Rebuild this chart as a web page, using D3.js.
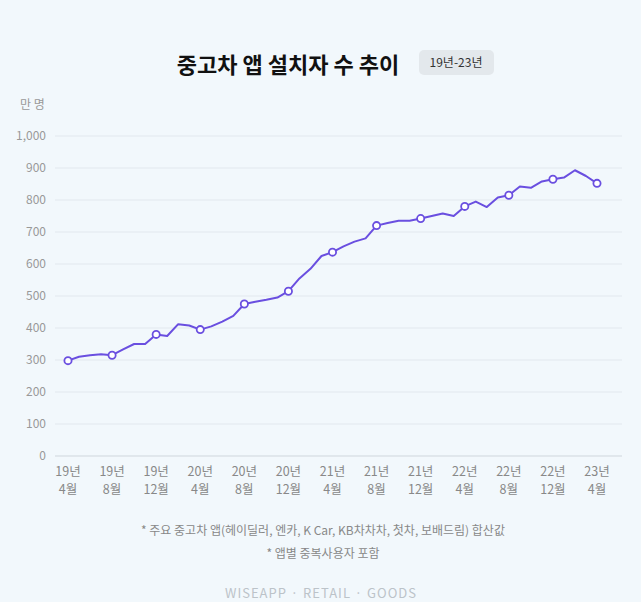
<!DOCTYPE html>
<html><head><meta charset="utf-8">
<script src="https://cdn.jsdelivr.net/npm/d3@7"></script>
<style>body{margin:0;background:#f2f8fc;font-family:"Noto Sans CJK KR","Noto Sans",sans-serif}</style>
</head><body><div id="chart"></div>
<script>
// monthly installs, 19년 4월 .. 23년 4월 (만 명)
const values = [298,310,315,318,315,333,350,350,380,375,412,408,395,405,420,438,475,482,488,495,515,555,585,625,637,655,670,680,720,728,735,735,742,750,758,750,780,795,778,808,815,842,838,858,865,870,893,875,852];
const tickLabels = [["19년","4월"],["19년","8월"],["19년","12월"],["20년","4월"],["20년","8월"],["20년","12월"],["21년","4월"],["21년","8월"],["21년","12월"],["22년","4월"],["22년","8월"],["22년","12월"],["23년","4월"]];
const yTicks = d3.range(0, 1001, 100);

const W = 641, H = 602;
const svg = d3.select("#chart").append("svg").attr("width", W).attr("height", H);
svg.append("rect").attr("width", W).attr("height", H).attr("fill", "#f2f8fc");

const x = d3.scaleLinear().domain([0, values.length - 1]).range([68, 597]);
const y = d3.scaleLinear().domain([0, 1000]).range([456, 136]);

svg.append("text").attr("x", 288).attr("y", 73).attr("text-anchor", "middle")
  .attr("font-size", 22).attr("font-weight", 700).attr("fill", "#111").text("중고차 앱 설치자 수 추이");
svg.append("rect").attr("x", 419).attr("y", 50).attr("width", 75).attr("height", 25).attr("rx", 5).attr("fill", "#e3e8ec");
svg.append("text").attr("x", 456).attr("y", 67).attr("text-anchor", "middle")
  .attr("font-size", 12).attr("fill", "#333").text("19년-23년");

svg.append("text").attr("x", 20).attr("y", 109).attr("font-size", 12).attr("fill", "#999").text("만 명");

svg.append("g").selectAll("line").data(yTicks).join("line")
  .attr("x1", 55).attr("x2", 622).attr("y1", d => y(d)).attr("y2", d => y(d))
  .attr("stroke", d => d === 0 ? "#cfd6dc" : "#e2e8ee").attr("stroke-width", 1);
svg.append("g").selectAll("text").data(yTicks).join("text")
  .attr("x", 46).attr("y", d => y(d) + 4).attr("text-anchor", "end")
  .attr("font-size", 12).attr("fill", "#999").text(d => d3.format(",")(d));

const xl = svg.append("g").selectAll("text").data(tickLabels).join("text")
  .attr("text-anchor", "middle").attr("font-size", 12.5).attr("fill", "#888");
xl.append("tspan").attr("x", (d, i) => x(i * 4)).attr("y", 476).text(d => d[0]);
xl.append("tspan").attr("x", (d, i) => x(i * 4)).attr("y", 494).text(d => d[1]);

svg.append("path").datum(values)
  .attr("d", d3.line().x((d, i) => x(i)).y(d => y(d)))
  .attr("fill", "none").attr("stroke", "#6a4fe0").attr("stroke-width", 2).attr("stroke-linejoin", "round");
svg.append("g").selectAll("circle").data(values.filter((d, i) => i % 4 === 0)).join("circle")
  .attr("cx", (d, i) => x(i * 4)).attr("cy", d => y(d)).attr("r", 3.6)
  .attr("fill", "#fff").attr("stroke", "#6a4fe0").attr("stroke-width", 1.8);

svg.append("text").attr("x", 323).attr("y", 535).attr("text-anchor", "middle").attr("font-size", 12).attr("fill", "#888")
  .text("* 주요 중고차 앱(헤이딜러, 엔카, K Car, KB차차차, 첫차, 보배드림) 합산값");
svg.append("text").attr("x", 323).attr("y", 558).attr("text-anchor", "middle").attr("font-size", 12).attr("fill", "#888")
  .text("* 앱별 중복사용자 포함");
svg.append("text").attr("x", 321).attr("y", 598).attr("text-anchor", "middle").attr("font-size", 13).attr("fill", "#bcc3c9")
  .attr("letter-spacing", 1).text("WISEAPP · RETAIL · GOODS");
</script></body></html>
